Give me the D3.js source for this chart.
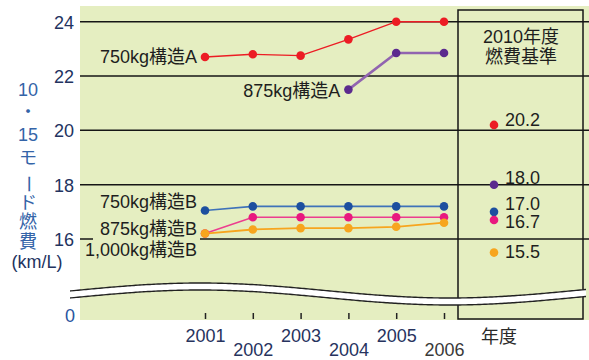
<!DOCTYPE html>
<html>
<head>
<meta charset="utf-8">
<script src="https://cdn.jsdelivr.net/npm/d3@7"></script>
<style>
  html, body { margin: 0; padding: 0; background: #fff; }
  svg text { font-family: "Liberation Sans", Arial, "Noto Sans CJK JP", sans-serif; }
</style>
</head>
<body>
<svg id="chart" width="589" height="360"></svg>
<script>
// Fiscal years on the x axis
const years = [2001, 2002, 2003, 2004, 2005, 2006];
const yTicks = [16, 18, 20, 22, 24];

// 10・15 mode fuel economy (km/L) by vehicle class
const seriesNames = ["750kg構造A", "875kg構造A", "750kg構造B", "875kg構造B", "1,000kg構造B"];
const values750A  = [22.7, 22.8, 22.75, 23.35, 24.0, 24.0];
const values875A  = [null, null, null, 21.5, 22.85, 22.85];
const values750B  = [17.05, 17.2, 17.2, 17.2, 17.2, 17.2];
const values875B  = [16.2, 16.8, 16.8, 16.8, 16.8, 16.8];
const values1000B = [16.2, 16.35, 16.4, 16.4, 16.45, 16.6];

// FY2010 fuel economy standards
const standardValues = [20.2, 18.0, 17.0, 16.7, 15.5];
const standardLabels = ["20.2", "18.0", "17.0", "16.7", "15.5"];

const dotColors  = ["#ec1c24", "#5b2a8e", "#1d4f9f", "#e8197f", "#f7a51e"];
const lineColors = ["#ec1c24", "#9164b0", "#3f72b9", "#ec3d8f", "#f7a51e"];
const lineWidths = [1.4, 2.6, 1.6, 1.6, 1.8];

const svg = d3.select("#chart");
const font = '"Liberation Sans", Arial, "Noto Sans CJK JP", sans-serif';

const x = d3.scaleLinear().domain([2001, 2006]).range([205, 444]);
const y = d3.scaleLinear().domain([16, 24]).range([239, 21.7]);
const yZero = 316;
const standardX = 494;

// plot background
svg.append("rect").attr("x", 80).attr("y", 6).attr("width", 509).attr("height", 314)
  .attr("fill", "#e5eec1");

// horizontal grid lines
const grid = svg.append("g").attr("stroke", "#161616").attr("stroke-width", 1.5);
yTicks.filter(v => v > 16).forEach(v => {
  grid.append("line").attr("x1", 80).attr("x2", 589).attr("y1", y(v)).attr("y2", y(v));
});
grid.append("line").attr("x1", 80).attr("x2", 93).attr("y1", y(16)).attr("y2", y(16));
grid.append("line").attr("x1", 200).attr("x2", 589).attr("y1", y(16)).attr("y2", y(16));

// FY2010 standard panel
svg.append("rect").attr("x", 458).attr("y", 10).attr("width", 125).attr("height", 309)
  .attr("fill", "none").attr("stroke", "#161616").attr("stroke-width", 1.5);

// axis break band
const waveY = xx => 290.5 - 7.5 * Math.cos(2 * Math.PI * (xx - 200) / 500);
const xs = d3.range(70, 590, 4);
const topPts = xs.map(xx => [xx, waveY(xx)]);
const botPts = xs.map(xx => [xx, waveY(xx) + 7]);
const line = d3.line().curve(d3.curveBasis);
svg.append("path")
  .attr("d", line(topPts) + "L" + botPts.slice().reverse().map(p => p.join(",")).join("L") + "Z")
  .attr("fill", "#fff").attr("stroke", "none");
svg.append("path").attr("d", line(topPts)).attr("fill", "none").attr("stroke", "#222").attr("stroke-width", 1.4);
svg.append("path").attr("d", line(botPts)).attr("fill", "none").attr("stroke", "#222").attr("stroke-width", 1.4);

// y axis labels
const yAxis = d3.axisLeft(y).tickValues(yTicks).tickSize(0).tickPadding(0);
const yg = svg.append("g").attr("transform", "translate(74,0)").call(yAxis);
yg.select(".domain").remove();
yg.selectAll("text").attr("font-size", 18).attr("font-family", font).attr("fill", "#23335f")
  .attr("dy", "0.36em");
svg.append("text").attr("x", 75).attr("y", yZero).attr("dy", "0.36em").attr("text-anchor", "end")
  .attr("font-size", 18).attr("fill", "#2a55a0").text("0");

// x axis ticks and labels, staggered on two rows
const xAxis = d3.axisBottom(x).tickValues(years).tickFormat(d3.format("d")).tickSize(6).tickPadding(0);
const xg = svg.append("g").attr("transform", "translate(0,313)").call(xAxis);
xg.select(".domain").remove();
xg.selectAll(".tick line").attr("stroke", "#222").attr("stroke-width", 1.5);
xg.selectAll(".tick text")
  .attr("font-size", 18).attr("font-family", font)
  .attr("fill", d => d === 2006 ? "#3a3a3a" : "#27335e")
  .attr("y", (d, i) => i % 2 === 0 ? 29 : 42.5)
  .attr("dy", null);

svg.append("text").attr("x", 499).attr("y", 343).attr("text-anchor", "middle")
  .attr("font-size", 18).attr("fill", "#2a2a2a").text("年度");

// y axis title, stacked vertically
const titleChars = ["10", "・", "15", "モ", "ー", "ド", "燃", "費"];
const titleY = [90, 112, 135, 158, 184, 203, 222, 242];
titleChars.forEach((c, i) => {
  const t = svg.append("text").attr("x", 28).attr("y", titleY[i]).attr("dy", "0.36em")
    .attr("text-anchor", "middle").attr("font-size", 18).attr("fill", "#3464a8").text(c);
  if (c === "ー") t.attr("transform", `rotate(90,28,${titleY[i]})`);
});
svg.append("text").attr("x", 37).attr("y", 262).attr("dy", "0.36em").attr("text-anchor", "middle")
  .attr("font-size", 18).attr("fill", "#23335f").text("(km/L)");

// series
const allSeries = [values750A, values875A, values750B, values875B, values1000B];
const drawOrder = [0, 1, 2, 3, 4];
const pathGen = d3.line().defined(d => d[1] != null).x(d => x(d[0])).y(d => y(d[1]));
drawOrder.forEach(i => {
  const pts = years.map((yr, j) => [yr, allSeries[i][j]]);
  svg.append("path").attr("d", pathGen(pts)).attr("fill", "none")
    .attr("stroke", lineColors[i]).attr("stroke-width", lineWidths[i]);
});
drawOrder.forEach(i => {
  const pts = years.map((yr, j) => [yr, allSeries[i][j]]).filter(d => d[1] != null);
  svg.append("g").selectAll("circle").data(pts).join("circle")
    .attr("cx", d => x(d[0])).attr("cy", d => y(d[1])).attr("r", 4.3)
    .attr("fill", dotColors[i]);
});

// series labels, placed left of each line's first point
const labelShift = [0, 0.5, -8.5, -5, 16];
drawOrder.forEach(i => {
  const j = allSeries[i].findIndex(v => v != null);
  svg.append("text")
    .attr("x", x(years[j]) - 8).attr("y", y(allSeries[i][j]) + labelShift[i])
    .attr("dy", "0.36em").attr("text-anchor", "end")
    .attr("font-size", 18).attr("fill", "#1e1e1e").text(seriesNames[i]);
});

// FY2010 standard panel contents
svg.append("text").attr("x", 521).attr("y", 37).attr("dy", "0.36em").attr("text-anchor", "middle")
  .attr("font-size", 18).attr("fill", "#1e1e1e").text("2010年度");
svg.append("text").attr("x", 521).attr("y", 57).attr("dy", "0.36em").attr("text-anchor", "middle")
  .attr("font-size", 18).attr("fill", "#1e1e1e").text("燃費基準");

const standardDy = [1, -1, -2, 8, 5];
standardValues.forEach((v, i) => {
  svg.append("circle").attr("cx", standardX).attr("cy", y(v)).attr("r", 4.3).attr("fill", dotColors[i]);
  svg.append("text").attr("x", 505).attr("y", y(v) + standardDy[i])
    .attr("font-size", 18).attr("fill", "#1e1e1e").text(standardLabels[i]);
});
</script>
</body>
</html>
